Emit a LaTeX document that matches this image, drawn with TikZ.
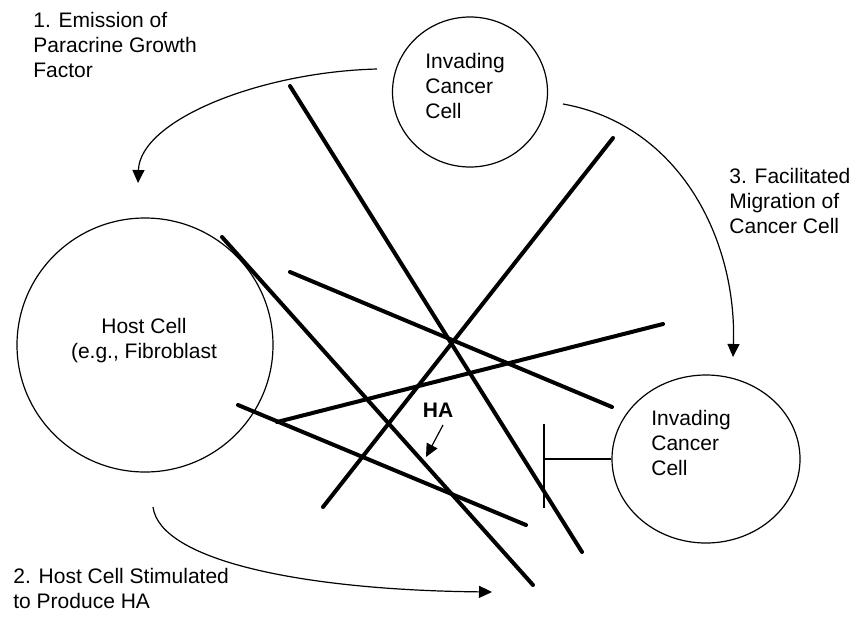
\documentclass[tikz,border=0pt]{standalone}
\usepackage{fontspec}
\setmainfont{Liberation Sans}
\usetikzlibrary{arrows.meta, shapes.geometric}

\begin{document}
\begin{tikzpicture}[x=0.5pt, y=-0.5pt, >={Triangle[length=6.5pt, width=6pt]}, font=\fontsize{10.5}{12.5}\selectfont]
    % Estilos
    \tikzstyle{cell} = [draw, ellipse, inner sep=0pt, line width=0.6pt]
    \tikzstyle{txt} = [inner sep=0pt, align=left, anchor=north west]
    \tikzstyle{fiber} = [line width=2pt, line cap=round] % fibras de HA
    \tikzstyle{flow} = [->, line width=0.6pt]

    \useasboundingbox (0,0) rectangle (866,616);

    % Celulas
    \node at (470,92) [cell, minimum width=77.5pt, minimum height=75pt] (cancertop) {};
    \node at (145,345) [cell, minimum width=128pt, minimum height=127pt] (host) {};
    \node at (706,459) [cell, minimum width=94pt, minimum height=84pt] (cancerbot) {};

    % Textos
    \node at (425,53) [txt] (cancertoptxt) {Invading\\Cancer\\Cell};
    \node at (144,318) [txt, align=center, anchor=north] (hosttxt) {Host Cell\\(e.g., Fibroblast};
    \node at (651,410) [txt] (cancerbottxt) {Invading\\Cancer\\Cell};
    \node at (33,12) [txt] (lblemit) {1. Emission of\\Paracrine Growth\\Factor};
    \node at (13,568) [txt] (lblstim) {2. Host Cell Stimulated\\to Produce HA};
    \node at (729,168) [txt] (lblmigr) {3. Facilitated\\Migration of\\Cancer Cell};
    \node at (438,403) [txt, anchor=north, font=\fontsize{10.5}{12.5}\selectfont\bfseries] (ha) {HA};

    % Fibras de HA
    \draw[fiber] (290,86) -- (582,552);
    \draw[fiber] (222,237) -- (533,585);
    \draw[fiber] (323,507) -- (613,138);
    \draw[fiber] (290,272) -- (612,407);
    \draw[fiber] (277,422) -- (663,324);
    \draw[fiber] (238,405) -- (526,525);

    % Extremos de las flechas
    \node at (377,69) [coordinate] (emit) {};
    \node at (138,183) [coordinate] (emitend) {};
    \node at (153,507) [coordinate] (stim) {};
    \node at (492,592) [coordinate] (stimend) {};
    \node at (563,104) [coordinate] (migr) {};
    \node at (733,357) [coordinate] (migrend) {};
    \node at (443,425) [coordinate] (hastart) {};
    \node at (426,457) [coordinate] (haend) {};

    \draw[flow] (emit) .. controls (260,72) and (140,120) .. (emitend);
    \draw[flow] (stim) .. controls (160,560) and (300,590) .. (stimend);
    \draw[flow] (migr) .. controls (680,125) and (737,240) .. (migrend);
    \draw[flow] (hastart) -- (haend);

    % Barrera frente a la celula invasora
    \node at (544,424) [coordinate] (bartop) {};
    \node at (544,508) [coordinate] (barbot) {};
    \node at (544,459) [coordinate] (barmid) {};
    \draw[line width=0.8pt] (bartop) -- (barbot);
    \draw[line width=0.6pt] (barmid) -- (cancerbot.west);

\end{tikzpicture}
\end{document}
